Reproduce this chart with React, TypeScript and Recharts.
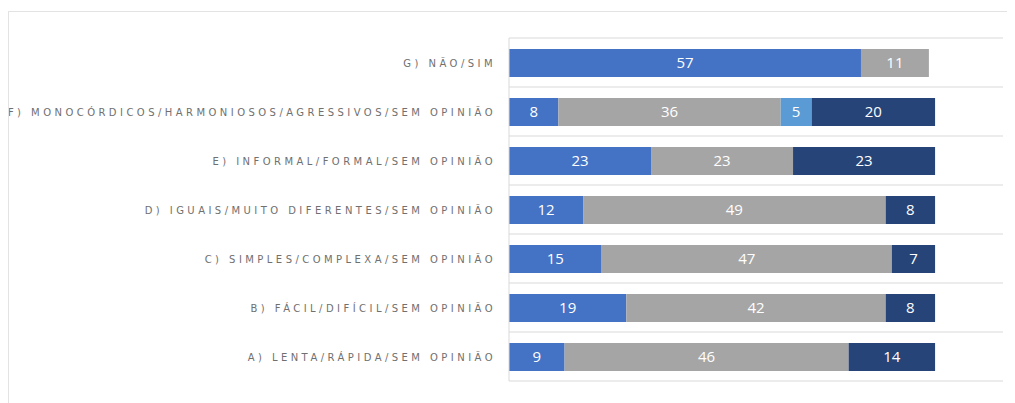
import React from 'react';
import { BarChart, Bar, XAxis, YAxis, CartesianGrid, LabelList } from 'recharts';

const categories = [
  'G) NÃO/SIM',
  'F) MONOCÓRDICOS/HARMONIOSOS/AGRESSIVOS/SEM OPINIÃO',
  'E) INFORMAL/FORMAL/SEM OPINIÃO',
  'D) IGUAIS/MUITO DIFERENTES/SEM OPINIÃO',
  'C) SIMPLES/COMPLEXA/SEM OPINIÃO',
  'B) FÁCIL/DIFÍCIL/SEM OPINIÃO',
  'A) LENTA/RÁPIDA/SEM OPINIÃO',
];

const firstValues = [57, 8, 23, 12, 15, 19, 9];
const secondValues = [11, 36, 23, 49, 47, 42, 46];
const thirdValues = [null, 5, null, null, null, null, null];
const fourthValues = [null, 20, 23, 8, 7, 8, 14];

const data = categories.map((name, i) => ({
  name,
  a: firstValues[i],
  b: secondValues[i],
  c: thirdValues[i],
  d: fourthValues[i],
}));

const COLORS = ['#4472C4', '#A5A5A5', '#5B9BD5', '#264478'];

const CategoryTick = ({ x, y, payload }: any) => (
  <text
    x={x}
    y={y}
    dx={-5}
    dy={4}
    textAnchor="end"
    fill="#707070"
    fontSize={10}
    fontFamily="DejaVu Sans, sans-serif"
    letterSpacing={3.45}
  >
    {payload.value}
  </text>
);

const labelFmt = (v: any) => (v ? v : '');

export default function App() {
  const keys = ['a', 'b', 'c', 'd'];
  return (
    <div
      style={{
        marginTop: 3,
        width: 1007,
        height: 392,
        borderTop: '1px solid #e3e3e3',
        borderLeft: '1px solid #e3e3e3',
        boxSizing: 'border-box',
      }}
    >
      <BarChart
        layout="vertical"
        width={1006}
        height={380}
        data={data}
        margin={{ top: 26, right: 12, bottom: 11, left: 0 }}
        barSize={28}
      >
        <CartesianGrid
          vertical={false}
          stroke="#d9d9d9"
          horizontalCoordinatesGenerator={({ offset }: any) =>
            categories.map((_, i) => offset.top + (i * offset.height) / categories.length).concat([offset.top + offset.height])
          }
        />
        <XAxis type="number" domain={[0, 80]} hide />
        <YAxis
          type="category"
          dataKey="name"
          width={500}
          axisLine={{ stroke: '#d9d9d9' }}
          tickLine={false}
          tick={<CategoryTick />}
          interval={0}
        />
        {keys.map((k, i) => (
          <Bar key={k} dataKey={k} stackId="s" fill={COLORS[i]} isAnimationActive={false}>
            <LabelList
              dataKey={k}
              position="center"
              formatter={labelFmt}
              fill="#ffffff"
              fontSize={15}
              fontFamily="Liberation Sans Narrow, Open Sans, sans-serif"
            />
          </Bar>
        ))}
      </BarChart>
    </div>
  );
}
